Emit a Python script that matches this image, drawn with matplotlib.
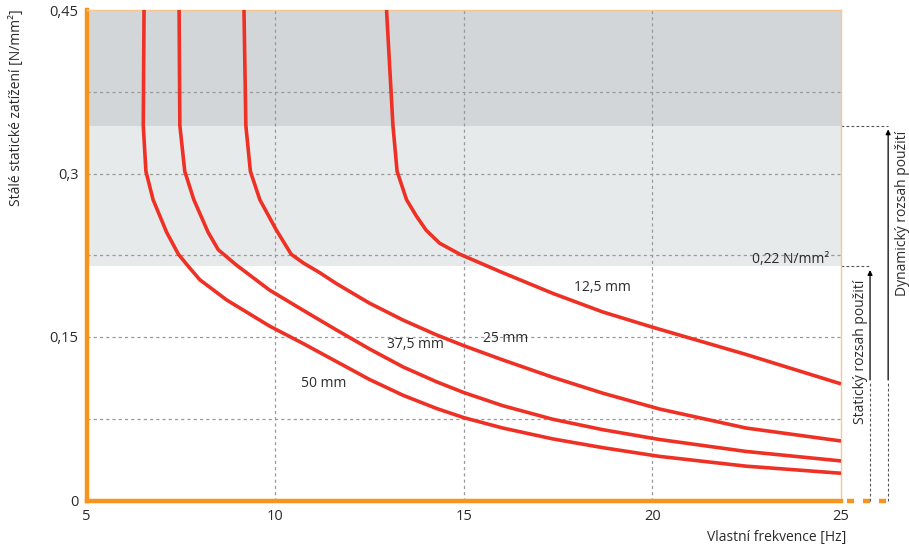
import matplotlib.pyplot as plt

plt.rcParams['font.family'] = ['Open Sans', 'DejaVu Sans']

# curves: natural frequency [Hz] vs. static load [N/mm2]
f_125 = [12.95, 13.12, 13.23, 13.48, 13.74, 14.0, 14.36, 14.89, 16.03, 17.36, 18.68, 20.0, 22.48, 25.0]
q_125 = [0.45, 0.344, 0.302, 0.276, 0.261, 0.248, 0.236, 0.226, 0.209, 0.190, 0.173, 0.159, 0.134, 0.107]

f_25 = [9.17, 9.22, 9.34, 9.59, 10.03, 10.42, 10.74, 11.18, 11.62, 12.50, 13.39, 14.27,
        15.0, 16.03, 17.36, 18.68, 20.18, 22.48, 25.0]
q_25 = [0.45, 0.344, 0.302, 0.276, 0.248, 0.226, 0.218, 0.209, 0.199, 0.181, 0.1655, 0.152,
        0.142, 0.129, 0.113, 0.0985, 0.084, 0.0665, 0.0546]

f_375 = [7.45, 7.47, 7.60, 7.84, 8.22, 8.49, 8.97, 9.85, 10.74, 11.62, 12.50, 13.39, 14.27,
         15.0, 16.03, 17.36, 18.68, 20.18, 22.48, 25.0]
q_375 = [0.45, 0.344, 0.302, 0.276, 0.246, 0.230, 0.216, 0.193, 0.1745, 0.1565, 0.139, 0.1225,
         0.109, 0.099, 0.087, 0.0745, 0.065, 0.056, 0.045, 0.0363]

f_50 = [6.52, 6.50, 6.57, 6.76, 7.12, 7.43, 7.69, 8.0, 8.71, 9.85, 10.74, 11.62, 12.50,
        13.39, 14.27, 15.0, 16.03, 17.36, 18.68, 20.18, 22.48, 25.0]
q_50 = [0.45, 0.344, 0.302, 0.276, 0.246, 0.226, 0.215, 0.2025, 0.184, 0.160, 0.144, 0.1275,
        0.111, 0.0965, 0.0845, 0.076, 0.0665, 0.0565, 0.0485, 0.0405, 0.0315, 0.025]

curve_labels = ['12,5 mm', '25 mm', '37,5 mm', '50 mm']
label_pos = [(18.68, 0.195), (16.12, 0.149), (13.71, 0.143), (11.29, 0.107)]

static_limit = 0.215
dynamic_limit = 0.344
x_ticks = [5, 10, 15, 20, 25]
y_ticks = [0, 0.15, 0.3, 0.45]
y_tick_labels = ['0', '0,15', '0,3', '0,45']
y_grid = [0.075, 0.15, 0.225, 0.3, 0.375]
x_grid = [10, 15, 20]

ORANGE = '#F7941D'
LIGHT_ORANGE = '#FBC68A'
RED = '#EE3124'
TXT = '#2b2b2b'

fig = plt.figure(figsize=(9.09, 5.48), dpi=100)
ax = fig.add_axes([86.7 / 909, 47.5 / 548, 754.3 / 909, 490.5 / 548])
ax.set_xlim(5, 25)
ax.set_ylim(0, 0.45)

# usage bands
ax.axhspan(dynamic_limit, 0.45, color='#D3D6D9', lw=0, zorder=0)
ax.axhspan(static_limit, dynamic_limit, color='#E7EAEB', lw=0, zorder=0)

for y in y_grid:
    ax.axhline(y, color='#999999', lw=0.9, ls=(0, (2.5, 2.5)), zorder=1)
for x in x_grid:
    ax.axvline(x, color='#999999', lw=0.9, ls=(0, (2.5, 2.5)), zorder=1)

for f, q in [(f_125, q_125), (f_25, q_25), (f_375, q_375), (f_50, q_50)]:
    ax.plot(f, q, color=RED, lw=2.6, solid_capstyle='butt', solid_joinstyle='round', zorder=3)

for lab, (x, y) in zip(curve_labels, label_pos):
    ax.text(x, y, lab, fontsize=10, color=TXT, ha='center', va='center', zorder=4)

ax.text(24.68, 0.221, '0,22 N/mm²', fontsize=10, color=TXT, ha='right', va='center', zorder=4)

# spines
for side in ['left', 'bottom']:
    ax.spines[side].set_color(ORANGE)
    ax.spines[side].set_linewidth(3.2)
for side in ['top', 'right']:
    ax.spines[side].set_color(LIGHT_ORANGE)
    ax.spines[side].set_linewidth(1.0)

ax.set_xticks(x_ticks)
ax.set_xticklabels([str(t) for t in x_ticks])
ax.set_yticks(y_ticks)
ax.set_yticklabels(y_tick_labels)
ax.tick_params(length=0, labelsize=10.5, colors=TXT, pad=6)

# dashed continuation of x axis
ax.plot([25.15, 26.3], [0, 0], color=ORANGE, lw=3.2, ls=(0, (1.6, 2.0)),
        clip_on=False, solid_capstyle='butt')

# static / dynamic range brackets on the right
x_st = 25.77
x_dy = 26.25
ax.plot([25, x_st], [static_limit, static_limit], color='#555555', lw=0.8,
        ls=(0, (2.5, 2)), clip_on=False)
ax.plot([x_st, x_st], [0, 0.108], color='#555555', lw=0.8, ls=(0, (2.5, 2)), clip_on=False)
ax.annotate('', xy=(x_st, static_limit - 0.001), xytext=(x_st, 0.108),
            arrowprops=dict(arrowstyle='-|>', color='black', lw=0.9, mutation_scale=7),
            annotation_clip=False)
ax.plot([25, x_dy], [dynamic_limit, dynamic_limit], color='#555555', lw=0.8,
        ls=(0, (2.5, 2)), clip_on=False)
ax.plot([x_dy, x_dy], [0, 0.108], color='#555555', lw=0.8, ls=(0, (2.5, 2)), clip_on=False)
ax.annotate('', xy=(x_dy, dynamic_limit - 0.001), xytext=(x_dy, 0.108),
            arrowprops=dict(arrowstyle='-|>', color='black', lw=0.9, mutation_scale=7),
            annotation_clip=False)

fig.text(861 / 909, 1 - 352 / 548, 'Statický rozsah použití', rotation=90, fontsize=10,
         color=TXT, ha='center', va='center')
fig.text(902 / 909, 1 - 213 / 548, 'Dynamický rozsah použití', rotation=90, fontsize=10,
         color=TXT, ha='center', va='center')

fig.text(17 / 909, 1 - 108 / 548, 'Stálé statické zatížení [N/mm²]', rotation=90,
         fontsize=10, color=TXT, ha='center', va='center')
fig.text(846 / 909, 1 - 537 / 548, 'Vlastní frekvence [Hz]', fontsize=10,
         color=TXT, ha='right', va='center')

fig.savefig('out.png', dpi=100)
